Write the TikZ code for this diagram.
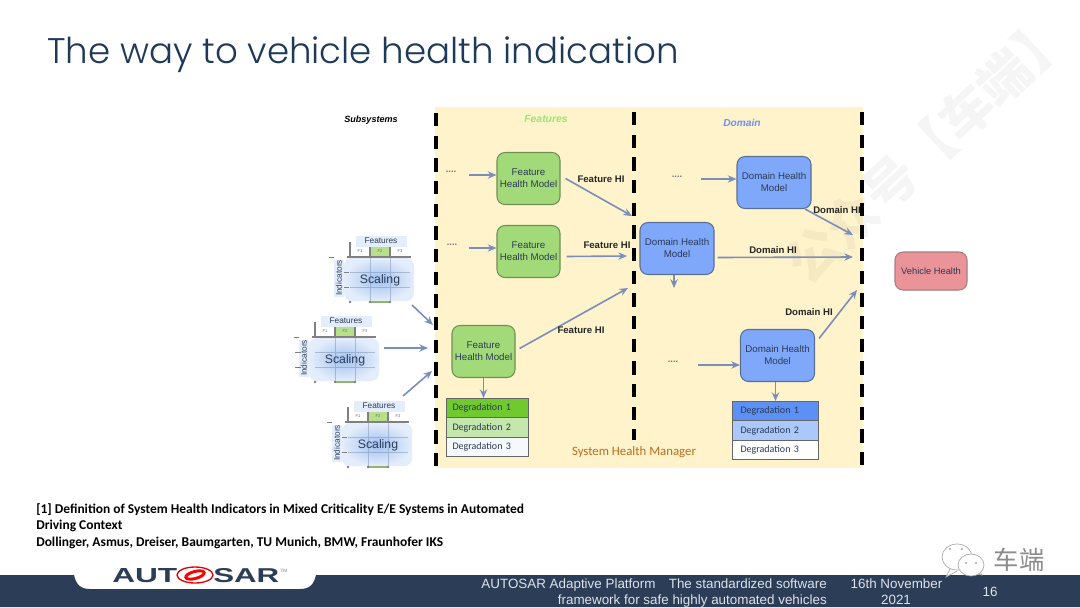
\documentclass[tikz,border=0pt]{standalone}
\usepackage{fontspec}
\usepackage{graphicx}
\setmainfont{Liberation Sans}
\newfontfamily\titlef{Poppins Light}
\newfontfamily\carl{Carlito}
\newfontfamily\cjk{Noto Sans CJK SC}
\usetikzlibrary{arrows.meta,calc,shapes.geometric}
\definecolor{navy}{HTML}{2B3D57}
\definecolor{titlec}{HTML}{1F3A58}
\definecolor{arrowc}{HTML}{7A8DBB}
\definecolor{yellowbg}{HTML}{FEF3CB}
\definecolor{greenf}{HTML}{A2DA7A}
\definecolor{greenb}{HTML}{6F8F55}
\definecolor{bluef}{HTML}{7FA8FB}
\definecolor{blueb}{HTML}{5A6F95}
\definecolor{redf}{HTML}{EA9499}
\definecolor{redb}{HTML}{A87C80}
\definecolor{panel}{HTML}{A0C0F0}
\definecolor{panelb}{HTML}{E4EDFB}
\definecolor{axisg}{HTML}{808080}
\definecolor{modeltext}{HTML}{2A3A55}
\definecolor{cellg}{HTML}{B8E08A}
\definecolor{gone}{HTML}{6FC92F}
\definecolor{gtwo}{HTML}{C5E6AC}
\definecolor{gthree}{HTML}{F5F8FC}
\definecolor{bone}{HTML}{5C90F5}
\definecolor{btwo}{HTML}{ABC8FB}
\newcommand{\fsz}[1]{\fontsize{#1}{#1}\selectfont}
\tikzset{
  x=0.75pt,y=-0.75pt,
  flow/.style={draw=arrowc,line width=1.2pt,-{Stealth[length=6.5pt,width=5.5pt]}},
  boundary/.style={draw=black,line width=3pt,dash pattern=on 10pt off 7pt},
  model/.style={draw=#1,rounded corners=6pt,line width=0.8pt,align=center,inner sep=0pt,text=modeltext,font=\fontsize{7.3}{9}\selectfont},
  hi/.style={font=\fsz{7.2}\bfseries,text=black!85,inner sep=0pt},
  dots/.style={font=\fsz{7}\bfseries,text=black!55,inner sep=0pt},
  degr/.style={draw=axisg!80!black,line width=0.8pt,font=\carl\fsz{7.5},text=modeltext,inner ysep=0pt,anchor=north west,align=left,text width=52.5pt,minimum height=14.5pt},
  small/.style={font=\fsz{3},text=black!60,inner sep=0pt},
  foot/.style={font=\fsz{10.05},text=white!85!navy,inner sep=0pt,anchor=base},
  refline/.style={font=\carl\bfseries\fsz{10.1},text=black,inner sep=0pt,anchor=base west},
}
% origin, name prefix, inner tick start, inner tick end
\newcommand{\scalinggroup}[5]{%
\begin{scope}[shift={(#1,#2)}]
  \shade[inner color=panel,outer color=panelb,rounded corners=6pt] (-6,1) rectangle (64,44);
  \fill[panelb] (6,-21) rectangle (57,-10);
  \fill[panelb] (-16,3) rectangle (-6,40);
  \fill[cellg] (20,-10) rectangle (40,0);
  \draw[panel!70!black,line width=0.4pt,opacity=.45] (20,0) -- (20,44) (40,0) -- (40,44) (0,15) -- (60,15) (0,30) -- (60,30);
  \draw[axisg,line width=1.2pt] (-3,0) -- (61,0) (0,-15) -- (0,0);
  \draw[axisg,line width=0.9pt] (20,-10) -- (20,0) (40,-10) -- (40,0);
  \draw[axisg,line width=0.7pt] (-21,0) -- (-16,0) (#4,15) -- (#5,15) (#4,30) -- (#5,30);
  \draw[cellg!80!black,line width=1pt] (20,45) -- (40,45);
  \fill[axisg] (0,45) circle (1pt) (20,45) circle (1pt) (40,45) circle (1pt);
  \node[small] (#3f1) at (10,-6) {F1};
  \node[small] (#3f2) at (30,-6) {F2};
  \node[small] (#3f3) at (50,-6) {F3};
  \node[font=\fsz{6.2},text=navy,inner sep=0pt] (#3feat) at (31,-16) {Features};
  \node[font=\fsz{6.2},text=navy,inner sep=0pt,rotate=90] (#3ind) at (-11,21) {Indicators};
  \node[font=\fsz{9.2},text=navy,inner sep=0pt] (#3sc) at (30,23) {Scaling};
\end{scope}}
\begin{document}
\begin{tikzpicture}
\useasboundingbox (0,0) rectangle (1080,607);
\fill[white] (0,0) rectangle (1080,607);

% title
\node[font=\titlef\fsz{26.7},text=titlec,inner sep=0pt,anchor=base west] (title) at (47,63) {The way to vehicle health indication};

% yellow manager
\fill[yellowbg] (435,107) rectangle (863,468);

% watermark
\node[font=\cjk\bfseries\fsz{39},text=black,text opacity=.04,rotate=43,inner sep=0pt] (wm) at (928,148) {公众号【车端】};

\draw[boundary] (436,113) -- (436,466);
\draw[boundary] (634,112) -- (634,440);
\draw[boundary] (862,112) -- (862,467);

\node[font=\fsz{6.8}\bfseries\itshape,text=black,inner sep=0pt] (subs) at (371,120) {Subsystems};
\node[font=\fsz{7.8}\bfseries\itshape,text=cellg!85!green,inner sep=0pt] (feat) at (546,119) {Features};
\node[font=\fsz{7.6}\bfseries\itshape,text=bluef!85!blue,inner sep=0pt] (dom) at (742,123) {Domain};
\node[font=\carl\fsz{9.6},text=brown!55!orange!85!black,inner sep=0pt] (shm) at (634,452) {System Health Manager};

% scaling groups
\scalinggroup{350}{257}{sa}{-6}{-1}
\scalinggroup{315}{337}{sb}{-20}{-14}
\scalinggroup{348}{422}{sc}{-6}{-1}

% model nodes
\node[model=greenb,fill=greenf,minimum width=47.25pt,minimum height=39pt] (f1) at (528.5,178.5) {Feature\\Health Model};
\node[model=greenb,fill=greenf,minimum width=47.25pt,minimum height=39pt] (f2) at (528.5,251.5) {Feature\\Health Model};
\node[model=greenb,fill=greenf,minimum width=47.25pt,minimum height=39pt] (f3) at (483.5,351.5) {Feature\\Health Model};
\node[model=blueb,fill=bluef,minimum width=55.5pt,minimum height=39pt] (d1) at (774,182.5) {Domain Health\\Model};
\node[model=blueb,fill=bluef,minimum width=55.5pt,minimum height=39pt] (d2) at (677,248.5) {Domain Health\\Model};
\node[model=blueb,fill=bluef,minimum width=55.5pt,minimum height=39pt] (d3) at (777.5,355.5) {Domain Health\\Model};
\node[model=redb,fill=redf,minimum width=54pt,minimum height=28.5pt,font=\fsz{7}] (v) at (931,271) {Vehicle Health};

% degradation tables
\node[degr,fill=gone,inner xsep=4.5pt] (g1) at (446,398) {Degradation 1};
\node[degr,fill=gtwo,inner xsep=4.5pt] (g2) at (446,417.3) {Degradation 2};
\node[degr,fill=gthree,inner xsep=4.5pt] (g3) at (446,436.6) {Degradation 3};
\node[degr,fill=bone,inner xsep=6pt] (b1) at (732,401) {Degradation 1};
\node[degr,fill=btwo,inner xsep=6pt] (b2) at (732,420.3) {Degradation 2};
\node[degr,fill=white,inner xsep=6pt] (b3) at (732,439.6) {Degradation 3};

% dots
\node[dots] (e1) at (451,172) {....};
\node[dots] (e2) at (452,245) {....};
\node[dots] (e3) at (677,177) {....};
\node[dots] (e4) at (673,362) {....};

% free ends
\coordinate (t1) at (632,216);
\coordinate (t2) at (627,256);
\coordinate (t3) at (628,288);
\coordinate (t4) at (853,235);
\coordinate (t5) at (853,257);
\coordinate (t6) at (857,290);
\coordinate (t7) at (674,288);
\coordinate (i1) at (433,325);
\coordinate (i2) at (428,348);
\coordinate (i3) at (432,371);
\coordinate (s1) at (412,305);
\coordinate (s2) at (384,348);
\coordinate (s3) at (403,396);
\coordinate (a1) at (469,175);
\coordinate (a2) at (469,248);
\coordinate (a3) at (701,179);
\coordinate (a4) at (698,365);

% connectors
\draw[flow] (a1) -- (a1 -| f1.west);
\draw[flow] (a2) -- (a2 -| f2.west);
\draw[flow] (a3) -- (a3 -| d1.west);
\draw[flow] (a4) -- (a4 -| d3.west);
\draw[flow] ([xshift=5*0.75pt]f1.east) -- (t1);
\draw[flow] ([xshift=6*0.75pt,yshift=-5*0.75pt]f2.east) -- (t2);
\draw[flow] ([xshift=4*0.75pt,yshift=3*0.75pt]f3.east) -- (t3);
\draw[flow] (f3.south) -- (f3.south |- g1.north);
\draw[flow] ([xshift=31*0.75pt]d1.south) -- (t4);
\draw[flow] ([xshift=3*0.75pt,yshift=-9*0.75pt]d2.east) -- (t5);
\draw[flow] (t7 |- d2.south) -- (t7);
\draw[flow] ([xshift=4*0.75pt,yshift=17*0.75pt]d3.east) -- (t6);
\draw[flow] ([xshift=-2*0.75pt]d3.south) -- ([xshift=-2*0.75pt]d3.south |- b1.north);
\draw[flow] (s1) -- (i1);
\draw[flow] (s2) -- (i2);
\draw[flow] (s3) -- (i3);

% connector labels
\node[hi] (l1) at (601,179) {Feature HI};
\node[hi] (l2) at (607,245) {Feature HI};
\node[hi] (l3) at (581,330) {Feature HI};
\node[hi] (l4) at (837,210) {Domain HI};
\node[hi] (l5) at (773,250) {Domain HI};
\node[hi] (l6) at (809,312) {Domain HI};

% reference
\node[refline] (r1) at (36,513) {[1] Definition of System Health Indicators in Mixed Criticality E/E Systems in Automated};
\node[refline] (r2) at (36,529.5) {Driving Context};
\node[refline] (r3) at (36,546) {Dollinger, Asmus, Dreiser, Baumgarten, TU Munich, BMW, Fraunhofer IKS};

% footer
\fill[navy] (0,575) -- (74,575) .. controls (76,584) and (80,589) .. (90,589) -- (300,589) .. controls (310,589) and (314,584) .. (316,575) -- (1080,575) -- (1080,607) -- (0,607) -- cycle;
\node[inner sep=0pt,anchor=base west,text=navy] (au) at (112,582) {\resizebox{48.75pt}{10.5pt}{\bfseries AUT}};
\node[inner sep=0pt,anchor=base west,text=navy] (sar) at (213,582) {\resizebox{49.5pt}{10.5pt}{\bfseries SAR}};
\draw[red!90!black,line width=1pt] (195,575) ellipse [x radius=18,y radius=8];
\draw[red,line width=2.2pt,fill=white,rotate around={15:(195,575)}] (195,575) ellipse [x radius=9.5,y radius=3.5];
\node[font=\fsz{3.5},text=black!50,inner sep=0pt] (tm) at (284,571) {TM};
\node[foot,anchor=base east] (ft1) at (827,588.5) {AUTOSAR Adaptive Platform\hspace{10pt}The standardized software};
\node[foot,anchor=base east] (ft2) at (827,604.5) {framework for safe highly automated vehicles};
\node[foot] (ft3) at (896.5,588.5) {16th November};
\node[foot] (ft4) at (896,604.5) {2021};
\node[foot] (ft5) at (990,596) {16};

% wechat mark
\draw[black!35,fill=white,line width=0.5pt] (950,569) -- (946,577) -- (957,571);
\draw[black!35,fill=white,line width=0.5pt] (957,557) ellipse [x radius=15,y radius=13];
\draw[black!35,fill=white,line width=0.5pt] (977,574) -- (982,575) -- (979,570);
\draw[black!35,fill=white,line width=0.5pt] (971,565) ellipse [x radius=13,y radius=11];
\fill[black!35] (950,549) circle (0.9pt) (962,549) circle (0.9pt) (966,563) circle (0.8pt) (976,563) circle (0.8pt);
\node[font=\cjk\fsz{19},text=black!45,inner sep=0pt] (wc) at (1019,560) {车端};
\end{tikzpicture}
\end{document}
